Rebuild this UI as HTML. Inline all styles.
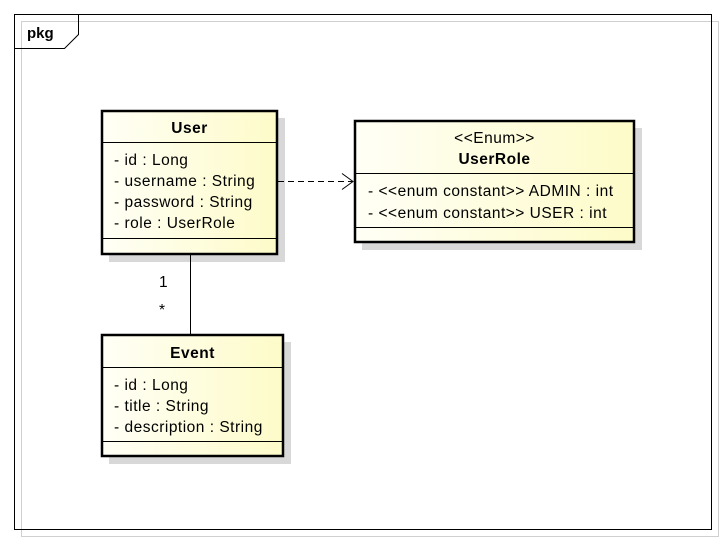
<!DOCTYPE html>
<html><head><style>
body{margin:0;background:#fff;}
svg text{font-family:"Liberation Sans",sans-serif;font-size:15.5px;letter-spacing:0.5px;fill:#000;}
</style></head><body>
<svg width="726" height="542" xmlns="http://www.w3.org/2000/svg">
<defs>
<linearGradient id="g" x1="0" x2="1" y1="0" y2="0">
<stop offset="0" stop-color="#fffff6"/><stop offset="1" stop-color="#fdfbc8"/>
</linearGradient>
</defs>
<rect x="21.5" y="21.5" width="697" height="515" fill="none" stroke="#d0d0d0"/>
<rect x="14.5" y="14.5" width="697" height="515" fill="none" stroke="#000"/>
<path d="M14.5 48.5 H64.5 L78.5 34.5 V14.5" fill="none" stroke="#000"/>
<text x="27" y="38" font-weight="bold" style="font-size:15px;letter-spacing:0">pkg</text>

<rect x="109" y="118" width="176" height="144" fill="#d8d8d8"/>
<rect x="362" y="128" width="280" height="122" fill="#d8d8d8"/>
<rect x="109" y="342" width="182" height="122" fill="#d8d8d8"/>

<rect x="102" y="111" width="175" height="143" fill="url(#g)" stroke="#000" stroke-width="2.5"/>
<line x1="102" y1="142.5" x2="277" y2="142.5" stroke="#000"/>
<line x1="102" y1="238.5" x2="277" y2="238.5" stroke="#000"/>
<text x="189.5" y="133" text-anchor="middle" font-weight="bold">User</text>
<text x="114" y="165">- id : Long</text>
<text x="114" y="186">- username : String</text>
<text x="114" y="207">- password : String</text>
<text x="114" y="228">- role : UserRole</text>

<rect x="355" y="121" width="279" height="121" fill="url(#g)" stroke="#000" stroke-width="2.5"/>
<line x1="355" y1="173.5" x2="634" y2="173.5" stroke="#000"/>
<line x1="355" y1="227.5" x2="634" y2="227.5" stroke="#000"/>
<text x="494.5" y="143" text-anchor="middle">&lt;&lt;Enum&gt;&gt;</text>
<text x="494.5" y="164" text-anchor="middle" font-weight="bold">UserRole</text>
<text x="368" y="196">- &lt;&lt;enum constant&gt;&gt; ADMIN : int</text>
<text x="368" y="218">- &lt;&lt;enum constant&gt;&gt; USER : int</text>

<rect x="102" y="335" width="181" height="121" fill="url(#g)" stroke="#000" stroke-width="2.5"/>
<line x1="102" y1="367.5" x2="283" y2="367.5" stroke="#000"/>
<line x1="102" y1="441.5" x2="283" y2="441.5" stroke="#000"/>
<text x="192.5" y="358" text-anchor="middle" font-weight="bold">Event</text>
<text x="114" y="390">- id : Long</text>
<text x="114" y="411">- title : String</text>
<text x="114" y="432">- description : String</text>

<line x1="190.5" y1="255" x2="190.5" y2="334" stroke="#000"/>
<text x="159" y="287">1</text>
<text x="159" y="315">*</text>
<line x1="278" y1="181.5" x2="353" y2="181.5" stroke="#000" stroke-dasharray="6,4"/>
<path d="M342 173.5 L353 181.5 L342 189.5" fill="none" stroke="#000"/>
</svg>
</body></html>
